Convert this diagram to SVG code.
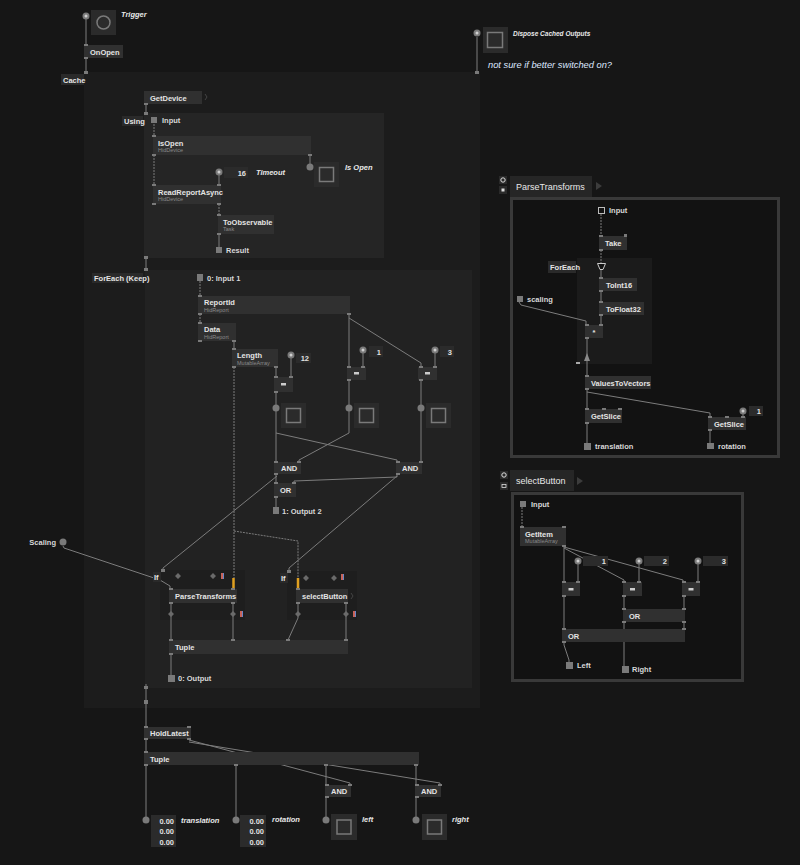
<svg xmlns="http://www.w3.org/2000/svg" width="800" height="865" viewBox="0 0 800 865">
<style>
text{font-family:"Liberation Sans",Arial,sans-serif;}
.t{font-size:7.5px;fill:#e4e4e4;font-weight:bold;}
.c{font-size:5.5px;fill:#8a8a8a;}
.io{font-size:7.5px;fill:#d8d8d8;font-weight:bold;}
.it{font-size:7.5px;fill:#e8e8e8;font-style:italic;font-weight:bold;}
.v{font-size:7.5px;fill:#e0e0e0;font-weight:bold;text-anchor:end;}
.tab{font-size:9px;fill:#e8e8e8;}
.n{fill:#303030;}
.p{fill:#7a7a7a;}
.l{stroke:#7c7c7c;stroke-width:1;fill:none;}
.d{stroke-dasharray:2 1;}
.box{fill:#2b2b2b;}
.tin{fill:none;stroke:#7a7a7a;stroke-width:1.5;}
.dot{fill:#7a7a7a;}
.dw{fill:#cfcfcf;}
.sq{fill:#7a7a7a;}
.lbl{fill:#2a2a2a;}
.dia{fill:#6a6a6a;}
</style>
<rect width="800" height="865" fill="#161616"/>

<!-- regions -->
<g id="regions">
  <rect x="84" y="72" width="396" height="636" fill="#1c1c1c"/>
  <rect x="144" y="113" width="240" height="145" fill="#252525"/>
  <rect x="145" y="270" width="327" height="418" fill="#222222"/>
  <rect x="160" y="570" width="85" height="50" fill="#1e1e1e"/>
  <rect x="287" y="571" width="70" height="49" fill="#1e1e1e"/>
  <rect x="511.5" y="198.5" width="267" height="258" fill="#121212" stroke="#393939" stroke-width="3"/>
  <rect x="577" y="258" width="75" height="106" fill="#1b1b1b"/>
  <rect x="512.5" y="493.5" width="230" height="187" fill="#121212" stroke="#393939" stroke-width="3"/>
</g>

<!-- connectors -->
<g id="connectors">
  <path class="l" d="M86 19V45M86 58V73"/>
  <path class="l" d="M477 37V73"/>
  <path class="l" d="M146 104V113M146 258V270"/>
  <path class="l d" d="M154 124V136M154 155V185"/>
  <path class="l" d="M310 155V167"/>
  <path class="l" d="M219 172V185"/>
  <path class="l d" d="M219 204V215"/>
  <path class="l" d="M219 234V247"/>
  <path class="l d" d="M200 281V296M200 314V323"/>
  <path class="l" d="M234 340V349"/>
  <path class="l d" d="M234 367V578"/>
  <path class="l d" d="M234 531L298 541V578"/>
  <path stroke="#e0a020" stroke-width="2.5" d="M233.5 578V589M298 578V589"/>
  <path class="l" d="M276 367V377M291 355V377"/>
  <path class="l" d="M349 314V367M349 318L421 363V367M363 350V367M435 350V367"/>
  <path class="l" d="M276 392V462M349 380V433L299 460V462M421 380V462M276 433L397 460V462"/>
  <path class="l" d="M276 474V483M397 474V477L294 481V483M276 497V507"/>
  <path class="l" d="M277 476L163 568V571M397 476L289 568V572"/>
  <path class="l" d="M63 546L64 548L160 580L170 586V589"/>
  <path class="l" d="M171 603V640M233 603V640M298 603V618L288 640M346 603V640"/>
  <path class="l" d="M171 654V675"/>
  <path class="l" d="M146 684V727M146 739V752"/>
  <path class="l" d="M189 740L350 783V785M189 742L440 783V785"/>
  <path class="l" d="M146 765V820M236 765V820M326 765V785M326 797V820M416 765V785M416 797V820"/>
  <!-- ParseTransforms patch -->
  <path class="l d" d="M601 214V236M601 250V263"/>
  <path class="l" d="M601 270V278M601 291V302M601 315V325"/>
  <path class="l" d="M519 302L521 305L586 321V325"/>
  <path class="l" d="M587 338V376M587 389V409M587 392L710 413V417M743 411V417"/>
  <path class="l" d="M587 423V443M710 430V443"/>
  <!-- selectButton patch -->
  <path class="l d" d="M522 507V527"/>
  <path class="l" d="M564 546V582M564 548L624 580V582M564 547L683 580V582"/>
  <path class="l" d="M578 561V582M639 561V582M698 561V582"/>
  <path class="l" d="M564 596V629M624 596V609M684 596V629M624 622V666"/>
  <path class="l" d="M564 642V645L569 660V662"/>
</g>

<!-- top-level IO -->
<g id="trigger">
  <circle cx="86" cy="16" r="3.5" class="dot"/><circle cx="86" cy="16" r="1.5" class="dw"/>
  <rect x="91" y="10" width="25" height="25" class="box"/>
  <circle cx="103.5" cy="22.5" r="6.5" class="tin"/>
  <text x="121" y="17" class="it">Trigger</text>
</g>
<g id="onopen">
  <rect x="84" y="45" width="39" height="13" class="n"/>
  <rect x="84" y="44" width="4" height="2" class="p"/><rect x="84" y="57" width="4" height="2" class="p"/>
  <text x="90" y="54.5" class="t">OnOpen</text>
</g>
<g id="cache-label">
  <rect x="61" y="74" width="23" height="11" class="lbl"/>
  <rect x="84" y="71" width="4" height="3" class="p"/>
  <text x="63" y="82.5" class="t">Cache</text>
</g>
<g id="dispose">
  <circle cx="477" cy="33" r="3.5" class="dot"/><circle cx="477" cy="33" r="1.5" class="dw"/>
  <rect x="483" y="27" width="25" height="26" class="box"/>
  <rect x="487.5" y="32.5" width="15" height="15" class="tin"/>
  <text x="513" y="35.5" class="it" style="font-size:6.5px">Dispose Cached Outputs</text>
  <rect x="475" y="71" width="4" height="3" class="p"/>
</g>
<g id="comment">
  <text x="488" y="67.5" style="font-size:9.3px;font-style:italic;fill:#dde6ff">not sure if better switched on?</text>
</g>

<!-- Cache contents -->
<g id="getdevice">
  <rect x="144" y="91" width="58" height="13" class="n"/>
  <rect x="144" y="103" width="4" height="2" class="p"/>
  <text x="150" y="100.5" class="t">GetDevice</text>
  <path d="M205 94L207 97L205 100" stroke="#444" fill="none"/>
</g>
<g id="using-label">
  <rect x="122" y="116" width="21" height="10" class="lbl"/>
  <text x="124" y="124" class="t">Using</text>
  <rect x="144" y="112" width="4" height="3" class="p"/><rect x="144" y="256" width="4" height="3" class="p"/>
</g>
<g id="using-input">
  <rect x="151" y="117" width="6" height="6" class="sq"/>
  <text x="162" y="123" class="io">Input</text>
</g>
<g id="isopen">
  <rect x="153" y="136" width="158" height="19" class="n"/>
  <rect x="152" y="135" width="4" height="2" class="p"/><rect x="152" y="154" width="4" height="2" class="p"/><rect x="308" y="154" width="4" height="2" class="p"/>
  <text x="158" y="146" class="t">IsOpen</text>
  <text x="158" y="152" class="c">HidDevice</text>
</g>
<g id="isopen-io">
  <circle cx="310" cy="167" r="3.5" class="dot"/>
  <rect x="314" y="162" width="25" height="25" class="box"/>
  <rect x="319.5" y="167.5" width="14" height="14" class="tin"/>
  <text x="345" y="170" class="it">Is Open</text>
</g>
<g id="timeout">
  <circle cx="219" cy="172" r="3.5" class="dot"/><circle cx="219" cy="172" r="1.5" class="dw"/>
  <rect x="224" y="167" width="24" height="11" class="box"/>
  <text x="246" y="175.5" class="v">16</text>
  <text x="256" y="175" class="it">Timeout</text>
</g>
<g id="readreportasync">
  <rect x="153" y="185" width="68" height="19" class="n"/>
  <rect x="152" y="184" width="4" height="2" class="p"/><rect x="217" y="184" width="4" height="2" class="p"/><rect x="152" y="203" width="4" height="2" class="p"/><rect x="217" y="203" width="4" height="2" class="p"/>
  <text x="158" y="195" class="t">ReadReportAsync</text>
  <text x="158" y="201" class="c">HidDevice</text>
</g>
<g id="toobservable">
  <rect x="218" y="215" width="56" height="19" class="n"/>
  <rect x="217" y="214" width="4" height="2" class="p"/><rect x="217" y="233" width="4" height="2" class="p"/>
  <text x="223" y="224.5" class="t">ToObservable</text>
  <text x="223" y="231" class="c">Task</text>
</g>
<g id="result">
  <rect x="216" y="247" width="6" height="6" class="sq"/>
  <text x="226" y="253" class="io">Result</text>
</g>

<!-- ForEach -->
<g id="foreach-label">
  <rect x="92" y="273" width="51" height="10" class="lbl"/>
  <text x="94" y="281" class="t">ForEach (Keep)</text>
  <rect x="144" y="268" width="4" height="3" class="p"/><rect x="144" y="686" width="4" height="3" class="p"/>
</g>
<g id="input1">
  <rect x="197" y="274" width="6" height="7" class="sq"/>
  <text x="207" y="281" class="io">0: Input 1</text>
</g>
<g id="reportid">
  <rect x="198" y="296" width="152" height="18" class="n"/>
  <rect x="198" y="295" width="4" height="2" class="p"/><rect x="198" y="313" width="4" height="2" class="p"/><rect x="347" y="313" width="4" height="2" class="p"/>
  <text x="204" y="305" class="t">ReportId</text>
  <text x="204" y="311.5" class="c">HidReport</text>
</g>
<g id="data">
  <rect x="198" y="323" width="38" height="18" class="n"/>
  <rect x="198" y="322" width="4" height="2" class="p"/><rect x="198" y="340" width="4" height="2" class="p"/><rect x="232" y="340" width="4" height="2" class="p"/>
  <text x="204" y="332" class="t">Data</text>
  <text x="204" y="338.5" class="c">HidReport</text>
</g>
<g id="length">
  <rect x="232" y="349" width="46" height="18" class="n"/>
  <rect x="232" y="348" width="4" height="2" class="p"/><rect x="232" y="366" width="4" height="2" class="p"/><rect x="274" y="366" width="4" height="2" class="p"/>
  <text x="237" y="358" class="t">Length</text>
  <text x="237" y="364.5" class="c">MutableArray</text>
</g>
<g id="pin12">
  <circle cx="291" cy="355" r="3.5" class="dot"/><circle cx="291" cy="355" r="1.5" class="dw"/>
  <rect x="296" y="353" width="15" height="10" class="box"/>
  <text x="309" y="361" class="v">12</text>
</g>
<g id="eq12">
  <rect x="274" y="377" width="19" height="15" class="n"/>
  <rect x="274" y="376" width="4" height="2" class="p"/><rect x="289" y="376" width="4" height="2" class="p"/><rect x="274" y="391" width="4" height="2" class="p"/>
  <rect x="281" y="383" width="5" height="2.5" fill="#ccc"/>
</g>
<g id="pin1">
  <circle cx="363" cy="350" r="3.5" class="dot"/><circle cx="363" cy="350" r="1.5" class="dw"/>
  <rect x="369" y="346" width="14" height="11" class="box"/>
  <text x="381" y="354.5" class="v">1</text>
</g>
<g id="eq1">
  <rect x="347" y="367" width="19" height="13" class="n"/>
  <rect x="347" y="366" width="4" height="2" class="p"/><rect x="361" y="366" width="4" height="2" class="p"/><rect x="347" y="379" width="4" height="2" class="p"/>
  <rect x="354" y="372" width="5" height="2.5" fill="#ccc"/>
</g>
<g id="pin3">
  <circle cx="435" cy="350" r="3.5" class="dot"/><circle cx="435" cy="350" r="1.5" class="dw"/>
  <rect x="440" y="346" width="14" height="11" class="box"/>
  <text x="452" y="354.5" class="v">3</text>
</g>
<g id="eq3">
  <rect x="418" y="367" width="19" height="13" class="n"/>
  <rect x="419" y="366" width="4" height="2" class="p"/><rect x="433" y="366" width="4" height="2" class="p"/><rect x="419" y="379" width="4" height="2" class="p"/>
  <rect x="425" y="372" width="5" height="2.5" fill="#ccc"/>
</g>
<g id="toggle-a">
  <circle cx="276" cy="408" r="3.5" class="dot"/>
  <rect x="281" y="403" width="25" height="25" class="box"/>
  <rect x="286.5" y="408.5" width="14" height="14" class="tin"/>
</g>
<g id="toggle-b">
  <circle cx="349" cy="408" r="3.5" class="dot"/>
  <rect x="354" y="403" width="25" height="25" class="box"/>
  <rect x="359.5" y="408.5" width="14" height="14" class="tin"/>
</g>
<g id="toggle-c">
  <circle cx="421" cy="408" r="3.5" class="dot"/>
  <rect x="426" y="403" width="25" height="25" class="box"/>
  <rect x="431.5" y="408.5" width="14" height="14" class="tin"/>
</g>
<g id="and1">
  <rect x="274" y="462" width="27" height="12" class="n"/>
  <rect x="274" y="461" width="4" height="2" class="p"/><rect x="297" y="461" width="4" height="2" class="p"/><rect x="274" y="473" width="4" height="2" class="p"/>
  <text x="281" y="471" class="t">AND</text>
</g>
<g id="and2">
  <rect x="396" y="462" width="26" height="12" class="n"/>
  <rect x="396" y="461" width="4" height="2" class="p"/><rect x="419" y="461" width="4" height="2" class="p"/><rect x="396" y="473" width="4" height="2" class="p"/>
  <text x="402" y="471" class="t">AND</text>
</g>
<g id="or">
  <rect x="274" y="483" width="22" height="14" class="n"/>
  <rect x="274" y="482" width="4" height="2" class="p"/><rect x="292" y="482" width="4" height="2" class="p"/><rect x="274" y="496" width="4" height="2" class="p"/>
  <text x="280" y="493" class="t">OR</text>
</g>
<g id="output2">
  <rect x="273" y="507" width="6" height="7" class="sq"/>
  <text x="282" y="513.5" class="io">1: Output 2</text>
</g>
<g id="scaling">
  <circle cx="63" cy="542" r="3.5" class="dot"/>
  <text x="56" y="544.5" class="io" style="text-anchor:end">Scaling</text>
</g>
<g id="if1">
  <rect x="153" y="572" width="8" height="10" class="lbl"/>
  <text x="154" y="580" class="t">If</text>
  <rect x="161" y="569" width="4" height="3" class="p"/>
  <path class="dia" d="M178 573L181 576L178 579L175 576Z M213 573L216 576L213 579L210 576Z"/>
  <rect x="221" y="573" width="2" height="6" fill="#c8645a"/><rect x="223" y="573" width="1" height="6" fill="#6a86c8"/>
</g>
<g id="parsetransforms">
  <rect x="169" y="589" width="68" height="14" class="n"/>
  <rect x="169" y="588" width="4" height="2" class="p"/><rect x="231" y="588" width="4" height="2" class="p"/><rect x="169" y="602" width="4" height="2" class="p"/><rect x="231" y="602" width="4" height="2" class="p"/>
  <text x="175" y="599" class="t">ParseTransforms</text>
  <path class="dia" d="M171 611L174 614L171 617L168 614Z M233 611L236 614L233 617L230 614Z"/>
  <rect x="240" y="611" width="2" height="6" fill="#c8645a"/><rect x="242" y="611" width="1" height="6" fill="#6a86c8"/>
</g>
<g id="if2">
  <rect x="280" y="573" width="8" height="10" class="lbl"/>
  <text x="281" y="581" class="t">If</text>
  <rect x="287" y="570" width="4" height="3" class="p"/>
  <path class="dia" d="M306 575L309 578L306 581L303 578Z M334 575L337 578L334 581L331 578Z"/>
  <rect x="341" y="574" width="2" height="6" fill="#c8645a"/><rect x="343" y="574" width="1" height="6" fill="#6a86c8"/>
</g>
<g id="selectbutton">
  <rect x="296" y="589" width="52" height="14" class="n"/>
  <rect x="296" y="588" width="4" height="2" class="p"/><rect x="296" y="602" width="4" height="2" class="p"/><rect x="344" y="602" width="4" height="2" class="p"/>
  <text x="302" y="599" class="t">selectButton</text>
  <path d="M351 593L353 596L351 599" stroke="#444" fill="none"/>
  <path class="dia" d="M298 611L301 614L298 617L295 614Z M346 611L349 614L346 617L343 614Z"/>
  <rect x="353" y="611" width="2" height="6" fill="#c8645a"/><rect x="355" y="611" width="1" height="6" fill="#6a86c8"/>
</g>
<g id="tuple-inner">
  <rect x="169" y="640" width="179" height="14" class="n"/>
  <rect x="169" y="639" width="4" height="2" class="p"/><rect x="231" y="639" width="4" height="2" class="p"/><rect x="286" y="639" width="4" height="2" class="p"/><rect x="344" y="639" width="4" height="2" class="p"/><rect x="169" y="653" width="4" height="2" class="p"/>
  <text x="175" y="650" class="t">Tuple</text>
</g>
<g id="output">
  <rect x="168" y="675" width="7" height="7" class="sq"/>
  <text x="178" y="681" class="io">0: Output</text>
</g>
<g id="cache-out">
  <rect x="144" y="700" width="4" height="4" class="p"/>
</g>

<!-- bottom -->
<g id="holdlatest">
  <rect x="144" y="727" width="47" height="12" class="n"/>
  <rect x="144" y="726" width="4" height="2" class="p"/><rect x="187" y="726" width="4" height="2" class="p"/><rect x="144" y="738" width="4" height="2" class="p"/><rect x="187" y="738" width="4" height="2" class="p"/>
  <text x="150" y="736" class="t">HoldLatest</text>
</g>
<g id="tuple-outer">
  <rect x="144" y="752" width="275" height="13" class="n"/>
  <rect x="144" y="751" width="4" height="2" class="p"/><rect x="144" y="764" width="4" height="2" class="p"/><rect x="234" y="764" width="4" height="2" class="p"/><rect x="324" y="764" width="4" height="2" class="p"/><rect x="414" y="764" width="4" height="2" class="p"/>
  <text x="150" y="761.5" class="t">Tuple</text>
</g>
<g id="and3">
  <rect x="325" y="785" width="26" height="12" class="n"/>
  <rect x="325" y="784" width="4" height="2" class="p"/><rect x="348" y="784" width="4" height="2" class="p"/><rect x="325" y="796" width="4" height="2" class="p"/>
  <text x="331" y="794" class="t">AND</text>
</g>
<g id="and4">
  <rect x="415" y="785" width="26" height="12" class="n"/>
  <rect x="415" y="784" width="4" height="2" class="p"/><rect x="438" y="784" width="4" height="2" class="p"/><rect x="415" y="796" width="4" height="2" class="p"/>
  <text x="421" y="794" class="t">AND</text>
</g>
<g id="translation-out">
  <circle cx="146" cy="820" r="3.5" class="dot"/>
  <rect x="151" y="815" width="25" height="32" class="box"/>
  <text x="174" y="824" class="v">0.00</text><text x="174" y="834" class="v">0.00</text><text x="174" y="845" class="v">0.00</text>
  <text x="181" y="823" class="it">translation</text>
</g>
<g id="rotation-out">
  <circle cx="236" cy="820" r="3.5" class="dot"/>
  <rect x="240" y="815" width="26" height="32" class="box"/>
  <text x="264" y="824" class="v">0.00</text><text x="264" y="834" class="v">0.00</text><text x="264" y="845" class="v">0.00</text>
  <text x="272" y="822" class="it">rotation</text>
</g>
<g id="left-out">
  <circle cx="326" cy="820" r="3.5" class="dot"/>
  <rect x="331" y="814" width="26" height="26" class="box"/>
  <rect x="337" y="820" width="14" height="14" class="tin"/>
  <text x="362" y="822" class="it">left</text>
</g>
<g id="right-out">
  <circle cx="416" cy="820" r="3.5" class="dot"/>
  <rect x="422" y="814" width="25" height="26" class="box"/>
  <rect x="427.5" y="820" width="14" height="14" class="tin"/>
  <text x="452" y="822" class="it">right</text>
</g>

<!-- ParseTransforms patch -->
<g id="pt-tab">
  <rect x="499" y="176" width="8" height="8" fill="#2a2a2a"/><circle cx="503" cy="180" r="2.2" fill="none" stroke="#ddd" stroke-width="1"/>
  <rect x="499" y="186" width="8" height="8" fill="#2a2a2a"/><rect x="501.5" y="188.5" width="3" height="3" fill="#ddd"/>
  <rect x="510" y="176" width="82" height="21" fill="#262626"/>
  <text x="516" y="190" class="tab">ParseTransforms</text>
  <path d="M596 182L602 186L596 190Z" fill="#3c3c3c"/>
</g>
<g id="pt-input">
  <rect x="598.5" y="207.5" width="6" height="6" fill="none" stroke="#bbb"/>
  <text x="609" y="213" class="io">Input</text>
</g>
<g id="pt-take">
  <rect x="599" y="236" width="28" height="14" class="n"/>
  <rect x="599" y="235" width="4" height="2" class="p"/><rect x="599" y="249" width="4" height="2" class="p"/><rect x="624" y="234" width="3" height="3" class="p"/>
  <text x="605" y="246" class="t">Take</text>
</g>
<g id="pt-foreach-label">
  <rect x="548" y="261" width="28" height="12" class="lbl"/>
  <text x="550" y="270" class="t">ForEach</text>
  <path d="M597.5 263.5H605.5L603 269.5H600Z" fill="#121212" stroke="#ccc"/>
  <path d="M584 361L587 353L590 361Z" fill="#8a8a8a"/>
  <rect x="576" y="362" width="4" height="2" fill="#aaa"/>
</g>
<g id="pt-toint16">
  <rect x="599" y="278" width="38" height="13" class="n"/>
  <rect x="599" y="277" width="4" height="2" class="p"/><rect x="599" y="290" width="4" height="2" class="p"/>
  <text x="606" y="288" class="t">ToInt16</text>
</g>
<g id="pt-tofloat32">
  <rect x="599" y="302" width="45" height="13" class="n"/>
  <rect x="599" y="301" width="4" height="2" class="p"/><rect x="599" y="314" width="4" height="2" class="p"/>
  <text x="606" y="312" class="t">ToFloat32</text>
</g>
<g id="pt-scaling">
  <rect x="517" y="296" width="6" height="6" class="sq"/>
  <text x="527" y="302" class="io">scaling</text>
</g>
<g id="pt-mul">
  <rect x="585" y="325" width="18" height="13" class="n"/>
  <rect x="585" y="324" width="4" height="2" class="p"/><rect x="599" y="324" width="4" height="2" class="p"/><rect x="585" y="337" width="4" height="2" class="p"/>
  <text x="594" y="335" class="t" style="text-anchor:middle">*</text>
</g>
<g id="pt-valuestovectors">
  <rect x="585" y="376" width="66" height="13" class="n"/>
  <rect x="585" y="375" width="4" height="2" class="p"/><rect x="585" y="388" width="4" height="2" class="p"/>
  <text x="591" y="386" class="t">ValuesToVectors</text>
</g>
<g id="pt-getslice1">
  <rect x="585" y="409" width="37" height="14" class="n"/>
  <rect x="585" y="408" width="4" height="2" class="p"/><rect x="602" y="408" width="4" height="2" class="p"/><rect x="618" y="408" width="4" height="2" class="p"/><rect x="585" y="422" width="4" height="2" class="p"/>
  <text x="591" y="419" class="t">GetSlice</text>
</g>
<g id="pt-pin1">
  <circle cx="743" cy="411" r="3.5" class="dot"/><circle cx="743" cy="411" r="1.5" class="dw"/>
  <rect x="749" y="406" width="14" height="10" class="box"/>
  <text x="761" y="414" class="v">1</text>
</g>
<g id="pt-getslice2">
  <rect x="708" y="417" width="38" height="13" class="n"/>
  <rect x="708" y="416" width="4" height="2" class="p"/><rect x="725" y="416" width="4" height="2" class="p"/><rect x="741" y="416" width="4" height="2" class="p"/><rect x="708" y="429" width="4" height="2" class="p"/>
  <text x="714" y="426.5" class="t">GetSlice</text>
</g>
<g id="pt-translation">
  <rect x="584" y="443" width="7" height="7" class="sq"/>
  <text x="595" y="449" class="io">translation</text>
</g>
<g id="pt-rotation">
  <rect x="707" y="443" width="7" height="6" class="sq"/>
  <text x="718" y="449" class="io">rotation</text>
</g>

<!-- selectButton patch -->
<g id="sb-tab">
  <rect x="500" y="471" width="8" height="8" fill="#2a2a2a"/><circle cx="504" cy="475" r="2.2" fill="none" stroke="#ddd" stroke-width="1"/>
  <rect x="500" y="482" width="8" height="8" fill="#2a2a2a"/><rect x="502" y="484.5" width="4" height="3" fill="none" stroke="#ddd" stroke-width="0.8"/>
  <rect x="510" y="470" width="64" height="21" fill="#262626"/>
  <text x="516" y="484" class="tab">selectButton</text>
  <path d="M577 477L583 481L577 485Z" fill="#3c3c3c"/>
</g>
<g id="sb-input">
  <rect x="520" y="501" width="6" height="6" class="sq"/>
  <text x="531" y="507" class="io">Input</text>
</g>
<g id="sb-getitem">
  <rect x="520" y="527" width="46" height="19" class="n"/>
  <rect x="520" y="526" width="4" height="2" class="p"/><rect x="562" y="526" width="4" height="2" class="p"/><rect x="562" y="545" width="4" height="2" class="p"/>
  <text x="525" y="537" class="t">GetItem</text>
  <text x="525" y="543" class="c">MutableArray</text>
</g>
<g id="sb-pin1">
  <circle cx="578" cy="561" r="3.5" class="dot"/><circle cx="578" cy="561" r="1.5" class="dw"/>
  <rect x="583" y="556" width="25" height="10" class="box"/>
  <text x="606" y="564" class="v">1</text>
</g>
<g id="sb-pin2">
  <circle cx="639" cy="561" r="3.5" class="dot"/><circle cx="639" cy="561" r="1.5" class="dw"/>
  <rect x="644" y="556" width="25" height="10" class="box"/>
  <text x="667" y="564" class="v">2</text>
</g>
<g id="sb-pin3">
  <circle cx="698" cy="561" r="3.5" class="dot"/><circle cx="698" cy="561" r="1.5" class="dw"/>
  <rect x="703" y="556" width="25" height="10" class="box"/>
  <text x="726" y="564" class="v">3</text>
</g>
<g id="sb-eq1">
  <rect x="562" y="582" width="18" height="14" class="n"/>
  <rect x="562" y="581" width="4" height="2" class="p"/><rect x="576" y="581" width="4" height="2" class="p"/><rect x="562" y="595" width="4" height="2" class="p"/>
  <rect x="568.5" y="588" width="5" height="2.5" fill="#ccc"/>
</g>
<g id="sb-eq2">
  <rect x="623" y="582" width="19" height="14" class="n"/>
  <rect x="622" y="581" width="4" height="2" class="p"/><rect x="637" y="581" width="4" height="2" class="p"/><rect x="622" y="595" width="4" height="2" class="p"/>
  <rect x="630" y="588" width="5" height="2.5" fill="#ccc"/>
</g>
<g id="sb-eq3">
  <rect x="682" y="582" width="18" height="14" class="n"/>
  <rect x="682" y="581" width="4" height="2" class="p"/><rect x="696" y="581" width="4" height="2" class="p"/><rect x="682" y="595" width="4" height="2" class="p"/>
  <rect x="688.5" y="588" width="5" height="2.5" fill="#ccc"/>
</g>
<g id="sb-or1">
  <rect x="623" y="609" width="62" height="13" class="n"/>
  <rect x="622" y="608" width="4" height="2" class="p"/><rect x="682" y="608" width="4" height="2" class="p"/><rect x="622" y="621" width="4" height="2" class="p"/><rect x="682" y="621" width="4" height="2" class="p"/>
  <text x="629" y="619" class="t">OR</text>
</g>
<g id="sb-or2">
  <rect x="562" y="629" width="123" height="13" class="n"/>
  <rect x="562" y="628" width="4" height="2" class="p"/><rect x="682" y="628" width="4" height="2" class="p"/><rect x="562" y="641" width="4" height="2" class="p"/>
  <text x="568" y="639" class="t">OR</text>
</g>
<g id="sb-left">
  <rect x="566" y="662" width="7" height="7" class="sq"/>
  <text x="577" y="668" class="io">Left</text>
</g>
<g id="sb-right">
  <rect x="622" y="666" width="7" height="7" class="sq"/>
  <text x="632" y="672" class="io">Right</text>
</g>
</svg>
